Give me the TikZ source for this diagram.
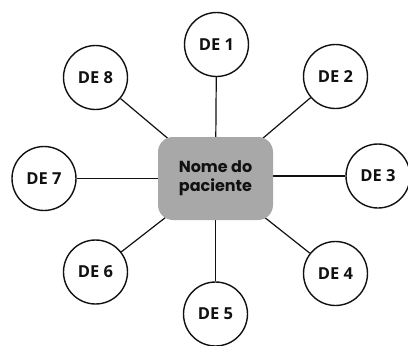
\documentclass[tikz,border=0pt]{standalone}
\usepackage{fontspec}
\setmainfont{Poppins}
\newfontfamily\circfont{Open Sans}
\usetikzlibrary{positioning,backgrounds}
\definecolor{PatGray}{HTML}{A8A8A8}
\definecolor{PatInk}{HTML}{111111}
\tikzset{
  patientbox/.style={draw=none, fill=PatGray, rounded corners=15pt,
                     minimum width=115pt, minimum height=83pt, align=center,
                     font=\fontsize{16}{19}\selectfont\bfseries\color{PatInk}},
  debubble/.style={circle, draw=PatInk, fill=white, line width=1.4pt,
                   minimum size=64pt, inner sep=0pt,
                   font=\circfont\fontsize{16.5}{18}\selectfont\bfseries\color{PatInk}},
  spoke/.style={draw=PatInk, line width=1.2pt},
}

\begin{document}
\begin{tikzpicture}[x=1pt,y=-1pt]
  \useasboundingbox (0,0) rectangle (408,346);

  % Patient in the middle
  \node[patientbox] (pac) at (215.5,178.5) {Nome do\\paciente};

  % Surrounding bubbles
  \node[debubble] (de1) at (216.5,44.5) {DE 1};
  \node[debubble] (de2) at (335.5,76.5) {DE 2};
  \node[debubble] (de3) at (378,176) {DE 3};
  \node[debubble] (de4) at (335.5,273.5) {DE 4};
  \node[debubble] (de5) at (215.5,314) {DE 5};
  \node[debubble] (de6) at (95.5,272) {DE 6};
  \node[debubble] (de7) at (44,178.5) {DE 7};
  \node[debubble] (de8) at (95.5,77.5) {DE 8};

  % Spokes behind the box
  \begin{scope}[on background layer]
    \foreach \d in {de1,de2,de4,de5,de6,de7,de8}
      \draw[spoke] (pac.center) -- (\d);
    \draw[spoke] (pac.center |- de3) -- (de3);
  \end{scope}
\end{tikzpicture}
\end{document}
